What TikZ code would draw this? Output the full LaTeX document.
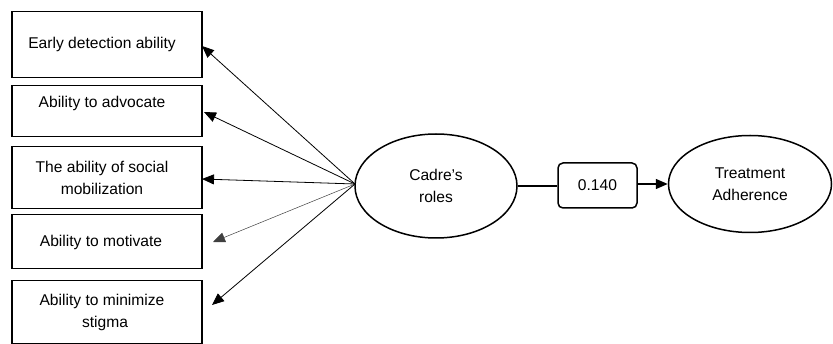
\documentclass[tikz,border=0pt]{standalone}
\usepackage{fontspec}
\setmainfont{Liberation Sans}
\usetikzlibrary{arrows.meta,shapes.geometric}
\begin{document}
\begin{tikzpicture}[x=1pt,y=-1pt,
  box/.style={draw,line width=1.5pt,minimum width=190pt,anchor=north west,inner sep=0pt},
  lbl/.style={font=\fontsize{15.6}{22}\selectfont,align=center,inner sep=0pt},
  oval/.style={ellipse,draw,line width=1.5pt,inner sep=0pt,font=\fontsize{15.6}{22}\selectfont,align=center},
  fan/.style={-{Triangle[length=12pt,width=10pt]},line width=0.8pt},
  thinfan/.style={fan,line width=0.5pt,draw=black!75},
]
\useasboundingbox (0,0) rectangle (833,344);
% indicator boxes
\node[box,minimum height=66pt] (b1) at (11,11) {};
\node[box,minimum height=51pt] (b2) at (11,85) {};
\node[box,minimum height=62pt] (b3) at (11,146) {};
\node[box,minimum height=54pt] (b4) at (11,214) {};
\node[box,minimum height=63pt] (b5) at (11,280) {};
\node[lbl] (l1) at (102,44) {Early detection ability};
\node[lbl] (l2) at (102,103) {Ability to advocate};
\node[lbl] (l3) at (102,178) {The ability of social\\mobilization};
\node[lbl] (l4) at (101,242) {Ability to motivate};
\node[lbl] (l5) at (102,312) {Ability to minimize\\\hspace*{6pt}stigma};
% latent variables
\node[oval,minimum width=162pt,minimum height=104pt] (cadre) at (436,186) {Cadre’s\\roles};
\node[oval,minimum width=163pt,minimum height=97pt] (treat) at (750,184) {Treatment\\Adherence};
\node[draw,line width=1.5pt,rounded corners=5pt,minimum width=79pt,minimum height=45pt,
  font=\fontsize{15.6}{22}\selectfont] (coef) at (597.5,185.5) {0.140};
% fan of loadings
\coordinate (o) at (355,184);
\coordinate (t1) at (202,46);
\coordinate (t2) at (204,112);
\coordinate (t3) at (202,179);
\coordinate (t4) at (213,242);
\coordinate (t5) at (212,305);
\draw[fan] (o) -- (t1);
\draw[fan] (o) -- (t2);
\draw[fan] (o) -- (t3);
\draw[thinfan] (o) -- (t4);
\draw[fan] (o) -- (t5);
% structural path
\draw[line width=1.5pt] (cadre.east) -- (coef.west |- cadre.east);
\draw[line width=1.5pt,-{Triangle[length=12pt,width=10pt]}] (coef.east |- treat.west) -- (treat.west);
\end{tikzpicture}
\end{document}
